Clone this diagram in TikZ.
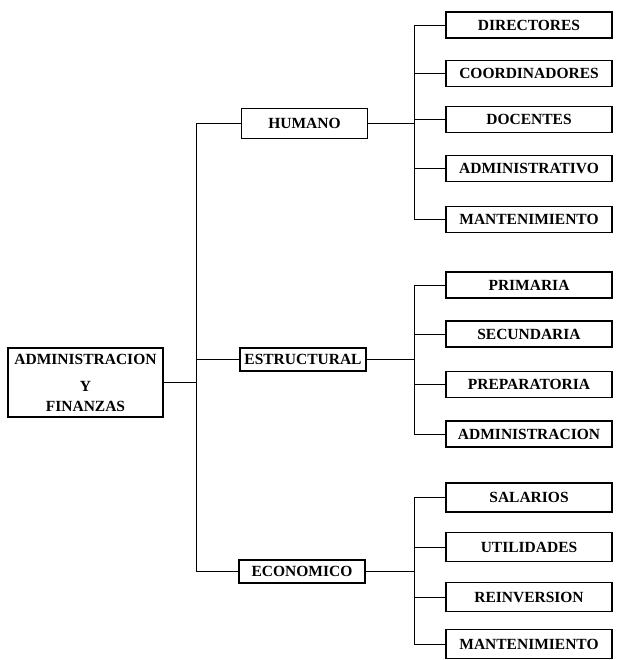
\documentclass[tikz,border=0pt]{standalone}
\usepackage{fontspec}
\setmainfont{Liberation Serif}
\begin{document}
\begin{tikzpicture}[x=1pt,y=-1pt,
  box/.style={draw, line width=1.8pt, inner sep=0pt, font=\fontsize{15.5}{18}\selectfont\bfseries, text=black},
  leaf/.style={box, minimum width=166pt, minimum height=26pt},
  cat/.style={box, minimum width=126pt, minimum height=23pt},
  conn/.style={line width=0.9pt}]
\useasboundingbox[fill=white] (0,0) rectangle (616,660);

% root
\node[box, minimum width=155pt, minimum height=69pt, align=center] (root) at (85.5,382.5)
  {ADMINISTRACION\\[9pt]Y\\[2pt]FINANZAS};

% categories
\node[cat, minimum height=30pt] (hum) at (304.5,123.5) {HUMANO};
\node[cat] (est) at (303,359.5) {ESTRUCTURAL};
\node[cat] (eco) at (302,571.5) {ECONOMICO};

% leaves: humano
\node[leaf] (h1) at (529,25) {DIRECTORES};
\node[leaf] (h2) at (529,73.5) {COORDINADORES};
\node[leaf] (h3) at (529,119.5) {DOCENTES};
\node[leaf] (h4) at (529,168.5) {ADMINISTRATIVO};
\node[leaf] (h5) at (529,219.5) {MANTENIMIENTO};

% leaves: estructural
\node[leaf] (s1) at (529,285) {PRIMARIA};
\node[leaf] (s2) at (529,334) {SECUNDARIA};
\node[leaf] (s3) at (529,384.5) {PREPARATORIA};
\node[leaf] (s4) at (529,434) {ADMINISTRACION};

% leaves: economico
\node[leaf, minimum height=29pt] (e1) at (529,497.5) {SALARIOS};
\node[leaf, minimum height=29pt] (e2) at (529,547) {UTILIDADES};
\node[leaf, minimum height=29pt] (e3) at (529,597) {REINVERSION};
\node[leaf, minimum height=29pt] (e4) at (529,644) {MANTENIMIENTO};

\coordinate (tx) at (196,0);
\coordinate (sx) at (414,0);

% trunk
\draw[conn] (root.east) -- (root.east -| tx);
\draw[conn] (hum.west -| tx) -- (eco.west -| tx);
\foreach \c in {hum,est,eco}
  \draw[conn] (\c.west -| tx) -- (\c.west);

% sub-trunks
\draw[conn] (hum.east) -- (hum.east -| sx);
\draw[conn] (h1.west -| sx) -- (h5.west -| sx);
\foreach \c in {h1,h2,h3,h4,h5}
  \draw[conn] (\c.west -| sx) -- (\c.west);

\draw[conn] (est.east) -- (est.east -| sx);
\draw[conn] (s1.west -| sx) -- (s4.west -| sx);
\foreach \c in {s1,s2,s3,s4}
  \draw[conn] (\c.west -| sx) -- (\c.west);

\draw[conn] (eco.east) -- (eco.east -| sx);
\draw[conn] (e1.west -| sx) -- (e4.west -| sx);
\foreach \c in {e1,e2,e3,e4}
  \draw[conn] (\c.west -| sx) -- (\c.west);
\end{tikzpicture}
\end{document}
